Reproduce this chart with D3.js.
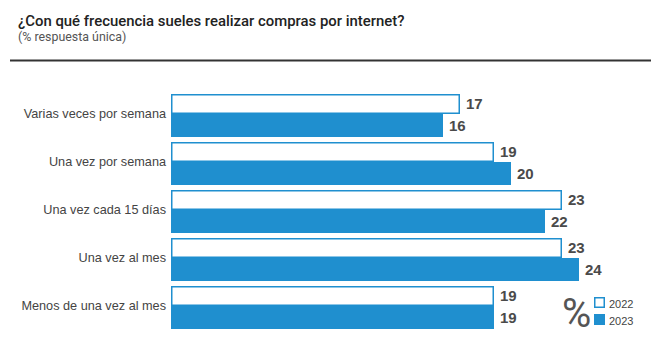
<!DOCTYPE html>
<html><head><meta charset="utf-8">
<script src="https://cdn.jsdelivr.net/npm/d3@7"></script>
<style>body{margin:0;background:#fff}svg{display:block}</style>
</head><body>
<script>
const categories = ["Varias veces por semana","Una vez por semana","Una vez cada 15 días","Una vez al mes","Menos de una vez al mes"];
const values2022 = [17,19,23,23,19];
const values2023 = [16,20,22,24,19];
const seriesNames = ["2022","2023"];
const title = "¿Con qué frecuencia sueles realizar compras por internet?";
const subtitle = "(% respuesta única)";

const W = 651, H = 345;
const blue = "#1f8fcf";
const svg = d3.select("body").append("svg").attr("width", W).attr("height", H);

svg.append("text").attr("x", 18).attr("y", 26).text(title)
  .attr("font-family","Roboto").attr("font-weight",500).attr("font-size",14.9).attr("fill","#222");
svg.append("text").attr("x", 18).attr("y", 41).text(subtitle)
  .attr("font-family","Roboto").attr("font-size",12.4).attr("fill","#555");
svg.append("line").attr("x1",10).attr("x2",W).attr("y1",60.5).attr("y2",60.5)
  .attr("stroke","#333").attr("stroke-width",2);

const x = d3.scaleLinear().domain([0,24]).range([171,579]);
const y0 = d3.scaleBand().domain(categories).range([94,329]).paddingInner(5/48).paddingOuter(0);
const bw = y0.bandwidth();
const h1 = bw*0.465, h2 = bw - h1;

const g = svg.selectAll("g.cat").data(categories).join("g").attr("class","cat");

g.append("text").attr("x",166).attr("y",(d)=>y0(d)+h1).attr("dy","0.35em")
  .attr("text-anchor","end").text(d=>d)
  .attr("font-family","Liberation Sans").attr("font-size",12.7).attr("fill","#444");

g.append("rect").attr("x",x(0)+0.75).attr("y",d=>y0(d)+0.75)
  .attr("width",(d,i)=>x(values2022[i])-x(0)-1.5).attr("height",h1-1.5)
  .attr("fill","#fff").attr("stroke",blue).attr("stroke-width",1.5);
g.append("rect").attr("x",x(0)).attr("y",d=>y0(d)+h1)
  .attr("width",(d,i)=>x(values2023[i])-x(0)).attr("height",h2)
  .attr("fill",blue);

const lab = {"font-family":"Liberation Sans","font-weight":"bold","font-size":15,"fill":"#4a4a4a"};
function applyAttrs(sel,o){for(const k in o) sel.attr(k,o[k]); return sel;}
applyAttrs(g.append("text").attr("x",(d,i)=>x(values2022[i])+6).attr("y",d=>y0(d)+h1/2).attr("dy","0.36em")
  .text((d,i)=>values2022[i]), lab);
applyAttrs(g.append("text").attr("x",(d,i)=>x(values2023[i])+6).attr("y",d=>y0(d)+h1+h2/2).attr("dy","0.36em")
  .text((d,i)=>values2023[i]), lab);

// legend
svg.append("text").attr("x",562).attr("y",327).text("%")
  .attr("font-family","Roboto").attr("font-size",40).attr("fill","#555");
const lg = svg.selectAll("g.leg").data(seriesNames).join("g").attr("class","leg")
  .attr("transform",(d,i)=>`translate(594,${297+i*17})`);
lg.append("rect").attr("x",(d,i)=>i?0:0.75).attr("y",(d,i)=>i?0:0.75)
  .attr("width",(d,i)=>i?11:9.5).attr("height",(d,i)=>i?11:9.5)
  .attr("fill",(d,i)=>i?blue:"#fff").attr("stroke",(d,i)=>i?"none":blue).attr("stroke-width",1.5);
lg.append("text").attr("x",15).attr("y",10.5).text(d=>d)
  .attr("font-family","Liberation Sans").attr("font-size",11).attr("fill","#444");
</script>
</body></html>
